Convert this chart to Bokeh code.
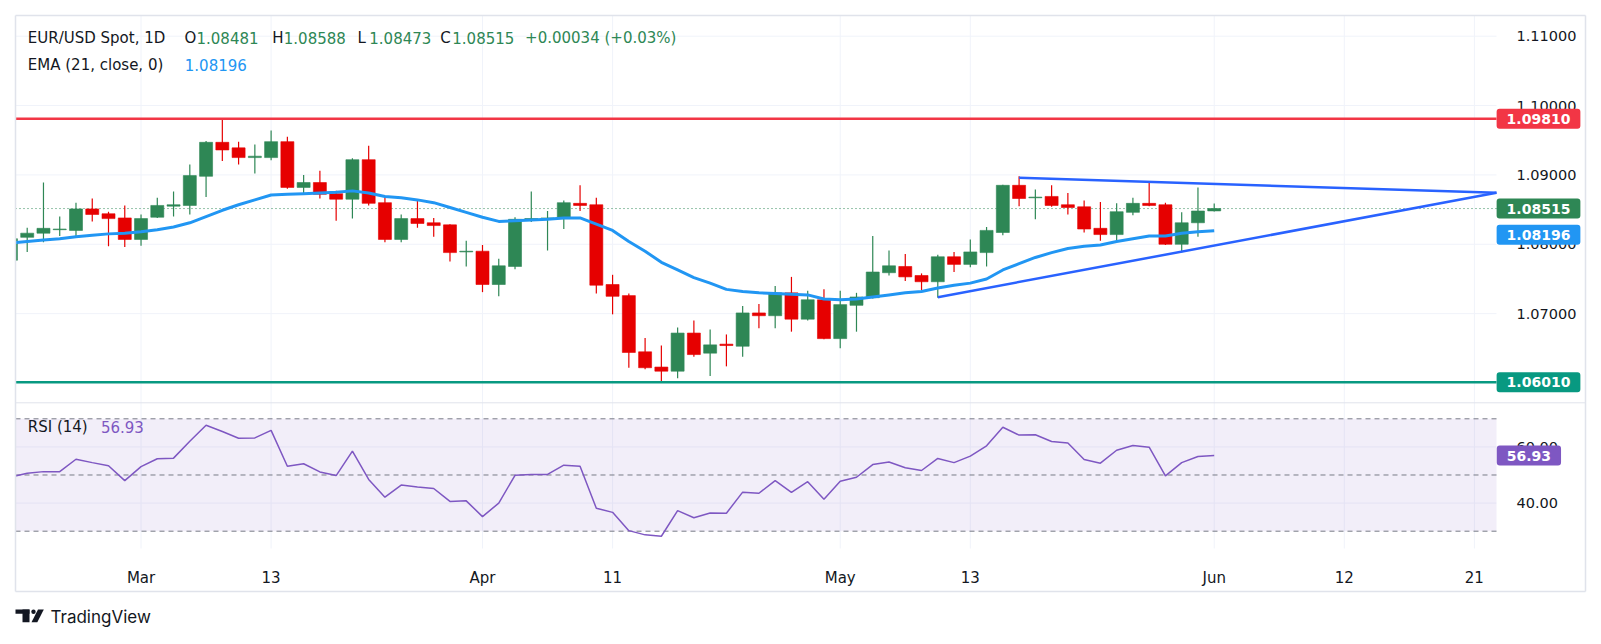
import numpy as np
import pandas as pd
from bokeh.plotting import figure
from bokeh.models import (ColumnDataSource, Range1d, FixedTicker, PrintfTickFormatter,
                          LinearAxis, Label)
from bokeh.embed import file_html
from bokeh.resources import INLINE

# ---------------- data ----------------
dates = pd.bdate_range("2024-02-20", "2024-06-03")

opens = [1.0777, 1.0810, 1.0816, 1.0821, 1.0820, 1.0851, 1.0844, 1.0838,
         1.0807, 1.0839, 1.0855, 1.0856, 1.0898, 1.0947, 1.0939, 1.0925, 1.0925, 1.0948,
         1.0882, 1.0889, 1.0873, 1.0865, 1.0922, 1.0860, 1.0807, 1.0837, 1.0831, 1.0828,
         1.0789, 1.0790, 1.0742, 1.0768, 1.0836, 1.0837, 1.0837, 1.0859, 1.0857, 1.0742,
         1.0726, 1.0645, 1.0623, 1.0617, 1.0672, 1.0643, 1.0656, 1.0653, 1.0701, 1.0697,
         1.0730, 1.0692, 1.0720, 1.0664, 1.0712, 1.0723, 1.0759, 1.0768, 1.0755, 1.0746,
         1.0782, 1.0771, 1.0788, 1.0817, 1.0885, 1.0867, 1.0869, 1.0857, 1.0854, 1.0823,
         1.0814, 1.0846, 1.0859, 1.0857, 1.0800, 1.0831, 1.08481]
highs = [1.0812, 1.0824, 1.0889, 1.0840, 1.0860, 1.0866, 1.0847, 1.0856,
         1.0843, 1.0867, 1.0876, 1.0915, 1.0949, 1.0981, 1.0948, 1.0944, 1.0964, 1.0955,
         1.0900, 1.0906, 1.0877, 1.0924, 1.0942, 1.0868, 1.0843, 1.0865, 1.0838, 1.0829,
         1.0805, 1.0799, 1.0779, 1.0839, 1.0876, 1.0848, 1.0863, 1.0885, 1.0867, 1.0756,
         1.0729, 1.0665, 1.0654, 1.0680, 1.0690, 1.0677, 1.0670, 1.0711, 1.0714, 1.0740,
         1.0753, 1.0733, 1.0735, 1.0733, 1.0730, 1.0812, 1.0791, 1.0786, 1.0758, 1.0785,
         1.0789, 1.0807, 1.0825, 1.0886, 1.0898, 1.0879, 1.0885, 1.0874, 1.0863, 1.0861,
         1.0859, 1.0867, 1.0889, 1.0860, 1.0846, 1.0882, 1.08588]
lows = [1.0760, 1.0789, 1.0803, 1.0812, 1.0812, 1.0833, 1.0797, 1.0796,
        1.0798, 1.0838, 1.0840, 1.0843, 1.0868, 1.0920, 1.0915, 1.0902, 1.0921, 1.0880,
        1.0873, 1.0866, 1.0834, 1.0837, 1.0856, 1.0803, 1.0803, 1.0824, 1.0811, 1.0775,
        1.0768, 1.0731, 1.0725, 1.0764, 1.0832, 1.0791, 1.0822, 1.0848, 1.0729, 1.0699,
        1.0622, 1.0620, 1.0603, 1.0607, 1.0638, 1.0610, 1.0624, 1.0638, 1.0679, 1.0679,
        1.0674, 1.0690, 1.0663, 1.0650, 1.0674, 1.0722, 1.0755, 1.0747, 1.0734, 1.0723,
        1.0760, 1.0767, 1.0768, 1.0813, 1.0855, 1.0836, 1.0854, 1.0843, 1.0817, 1.0805,
        1.0805, 1.0842, 1.0855, 1.0799, 1.0788, 1.0811, 1.08473]
closes = [1.0808, 1.0816, 1.0823, 1.0822, 1.0851, 1.0843, 1.0837, 1.0807,
          1.0837, 1.0856, 1.0857, 1.0899, 1.0947, 1.0936, 1.0925, 1.0927, 1.0948, 1.0882,
          1.0889, 1.0872, 1.0865, 1.0922, 1.0859, 1.0807, 1.0837, 1.0830, 1.0827, 1.0788,
          1.0790, 1.0742, 1.0769, 1.0836, 1.0837, 1.0838, 1.0860, 1.0856, 1.0741, 1.0725,
          1.0644, 1.0622, 1.0617, 1.0672, 1.0641, 1.0655, 1.0654, 1.0701, 1.0697, 1.0730,
          1.0692, 1.0720, 1.0664, 1.0713, 1.0724, 1.0760, 1.0769, 1.0753, 1.0746, 1.0782,
          1.0771, 1.0789, 1.0820, 1.0885, 1.0866, 1.0868, 1.0856, 1.0853, 1.0822, 1.0814,
          1.0847, 1.0859, 1.0856, 1.0800, 1.0831, 1.0848, 1.08515]
ema21 = [1.0802, 1.0804, 1.0806, 1.0808, 1.0811, 1.0813, 1.0815, 1.0816,
         1.0818, 1.0821, 1.0825, 1.0831, 1.0840, 1.0849, 1.0857, 1.0864, 1.0871, 1.0872,
         1.0873, 1.0874, 1.0875, 1.0877, 1.0874, 1.0869, 1.0867, 1.0864, 1.0860, 1.0853,
         1.0846, 1.0839, 1.0833, 1.0834, 1.0835, 1.0836, 1.0838, 1.0838, 1.0829, 1.0820,
         1.0804, 1.0790, 1.0774, 1.0763, 1.0752, 1.0744, 1.0735, 1.0732, 1.0730, 1.0729,
         1.0728, 1.0727, 1.0721, 1.0720, 1.0721, 1.0724, 1.0727, 1.0730, 1.0732, 1.0737,
         1.0741, 1.0744, 1.0750, 1.0763, 1.0772, 1.0781, 1.0788, 1.0794, 1.0797, 1.0799,
         1.0804, 1.0808, 1.0812, 1.0812, 1.0816, 1.0818, 1.08196]
rsi14 = [49.3, 50.6, 51.2, 51.2, 55.6, 54.4, 53.3, 48.0,
         53.0, 55.8, 56.0, 62.0, 67.7, 65.5, 63.1, 63.2, 65.9, 53.1,
         54.0, 51.1, 49.8, 58.5, 48.4, 42.1, 46.4, 45.7, 45.2, 40.6,
         40.8, 35.2, 40.0, 49.9, 50.2, 50.2, 53.5, 53.1, 38.2, 36.7,
         30.2, 28.7, 28.2, 37.3, 34.8, 36.5, 36.4, 43.9, 43.5, 48.0,
         43.8, 47.6, 41.4, 47.8, 49.2, 53.7, 54.6, 52.6, 51.6, 55.9,
         54.4, 56.7, 60.4, 67.0, 64.2, 64.3, 61.9, 61.4, 55.5, 54.2,
         58.8, 60.5, 59.9, 49.7, 54.4, 56.6, 56.93]

resistance = 1.0981
support = 1.0601
trend_upper_x = [62, 91.36]
trend_upper_y = [1.08958, 1.08742]
trend_lower_x = [57, 91.36]
trend_lower_y = [1.07237, 1.08742]

tick_pos = [8, 16, 29, 37, 51, 59, 74, 82, 90]
tick_labels = ["Mar", "13", "Apr", "11", "May", "13", "Jun", "12", "21"]
price_ticks = [1.07, 1.08, 1.09, 1.10, 1.11]
rsi_ticks = [40, 60]
rsi_levels = [70, 50, 30]

# ---------------- layout helpers (page pixels -> data) ----------------
UP, DOWN = "#2E8755", "#E60000"
DARK = "#131722"
LINE = "#E0E3EB"
GRID = "#F0F3FA"
FONT = "DejaVu Sans"
W, H = 1593, 636          # canvas = frame, at the page origin
X0, X1 = -0.64249, 97.3256
P0, P1 = 1.0234516, 1.1151471
R0, R1 = -7.474, 218.861


def px2x(px):
    return X0 + px / W * (X1 - X0)


def py2p(py):
    return P1 - py / H * (P1 - P0)


def sx(px):
    return px


def sy(py):
    return H - py


XL, XR = px2x(15), px2x(1496)      # plot area left/right
XB = px2x(1585)                    # outer box right

x = np.arange(len(dates))
o = np.array(opens); c = np.array(closes)
col = [UP if cc >= oo else DOWN for oo, cc in zip(o, c)]
src = ColumnDataSource(dict(x=x, open=o, close=c, high=highs, low=lows,
                            top=np.maximum(o, c), bottom=np.minimum(o, c),
                            color=col, ema=ema21, rsi=rsi14))

p = figure(width=W, height=H, x_range=Range1d(X0, X1), y_range=Range1d(P0, P1),
           y_axis_location="right", output_backend="svg", toolbar_location=None)
p.min_border = 0
p.min_border_left = p.min_border_right = p.min_border_top = p.min_border_bottom = 0
p.extra_y_ranges = {"rsi": Range1d(R0, R1)}
p.outline_line_color = None
p.background_fill_color = "white"
p.border_fill_color = "white"
p.grid.visible = False

# ---- axes (fixed inside the canvas, like TradingView scales) ----
ax = p.yaxis[0]
ax.ticker = FixedTicker(ticks=price_ticks)
ax.formatter = PrintfTickFormatter(format="%.5f")
ax.fixed_location = XR
rax = LinearAxis(y_range_name="rsi", ticker=FixedTicker(ticks=rsi_ticks),
                 formatter=PrintfTickFormatter(format="%.2f"), fixed_location=XR)
p.add_layout(rax, "right")
xa = p.xaxis[0]
xa.ticker = FixedTicker(ticks=tick_pos)
xa.major_label_overrides = {t: l for t, l in zip(tick_pos, tick_labels)}
xa.fixed_location = py2p(548)
for a in (ax, rax, xa):
    a.axis_line_color = None
    a.major_tick_line_color = None
    a.minor_tick_line_color = None
    a.major_label_text_font = FONT
    a.major_label_text_color = DARK
ax.major_label_text_font_size = rax.major_label_text_font_size = "14.5px"
ax.major_label_standoff = rax.major_label_standoff = 14
xa.major_label_text_font_size = "15px"
xa.major_label_standoff = 14

# ---- grid ----
p.segment(x0=tick_pos, x1=tick_pos, y0=py2p(15), y1=py2p(548), line_color=GRID, line_width=1)
p.segment(x0=XL, x1=XR, y0=price_ticks, y1=price_ticks, line_color=GRID, line_width=1)
p.segment(x0=XL, x1=XR, y0=rsi_ticks, y1=rsi_ticks, y_range_name="rsi",
          line_color=GRID, line_width=1)

# ---- RSI band ----
p.quad(left=XL, right=XR, bottom=30, top=70, y_range_name="rsi",
       fill_color="#7E57C2", fill_alpha=0.1, line_color=None)
p.segment(x0=XL, x1=XR, y0=rsi_levels, y1=rsi_levels, y_range_name="rsi",
          line_color="#787B86", line_dash="5 4", line_width=1)

# last price dotted line
p.segment(x0=XL, x1=XR, y0=closes[-1], y1=closes[-1], line_color=UP,
          line_dash="1 3", line_width=1)

# ---- candles ----
p.segment(x0="x", y0="low", x1="x", y1="high", color="color", line_width=1.2, source=src)
p.vbar(x="x", width=0.8, top="top", bottom="bottom", fill_color="color",
       line_color="color", line_width=0.6, source=src)

# EMA
p.line("x", "ema", source=src, line_color="#2196F3", line_width=3)

# horizontal levels
p.segment(x0=XL, x1=XR, y0=resistance, y1=resistance, line_color="#F23645", line_width=2.5)
p.segment(x0=XL, x1=XR, y0=support, y1=support, line_color="#089981", line_width=2.5)

# trend lines
p.line(trend_upper_x, trend_upper_y, line_color="#2962FF", line_width=2.5)
p.line(trend_lower_x, trend_lower_y, line_color="#2962FF", line_width=2.5)

# RSI line
p.line("x", "rsi", source=src, y_range_name="rsi", line_color="#7E57C2", line_width=1.5)

# mask the part left of the chart frame
p.quad(left=X0, right=XL, bottom=P0, top=P1, fill_color="white", line_color=None)

# outer box and pane separator
yt, yb = py2p(15), py2p(591)
p.segment(x0=[XL, XL, XL, XB], x1=[XB, XB, XL, XB], y0=[yt, yb, yt, yt], y1=[yt, yb, yb, yb],
          line_color=LINE, line_width=1.5)
p.segment(x0=XL, x1=XB, y0=py2p(402.3), y1=py2p(402.3), line_color=LINE, line_width=1)

# TradingView logo mark
p.quad(left=[px2x(15), px2x(22)], right=[px2x(29), px2x(29)],
       top=[py2p(609), py2p(609)], bottom=[py2p(613.3), py2p(621.7)],
       fill_color=DARK, line_color=None)
p.ellipse(x=px2x(33), y=py2p(611.2), width=4.4, height=4.4, width_units="screen",
          height_units="screen", fill_color=DARK, line_color=None)
p.patch(x=[px2x(37.5), px2x(43.3), px2x(36.8), px2x(31)],
        y=[py2p(609), py2p(609), py2p(621.7), py2p(621.7)], fill_color=DARK, line_color=None)


def txt(text, px, py, color=DARK, size="15px", font=FONT, style="normal"):
    p.add_layout(Label(x=sx(px), y=sy(py), x_units="screen", y_units="screen", text=text,
                       text_color=color, text_font=font, text_font_size=size,
                       text_font_style=style, text_baseline="middle", text_align="left"))


# header
chg = closes[-1] - opens[-1]
pct = chg / closes[-2] * 100
line1 = [("EUR/USD Spot, 1D", 27.3, DARK), ("O", 184, DARK), ("%.5f" % opens[-1], 196, UP),
         ("H", 271.7, DARK), ("%.5f" % highs[-1], 283.3, UP), ("L", 357, DARK),
         ("%.5f" % lows[-1], 368.8, UP), ("C", 439.7, DARK), ("%.5f" % closes[-1], 451.8, UP),
         ("%+.5f (%+.2f%%)" % (chg, pct), 524.6, UP)]
for t, px, cl in line1:
    txt(t, px, 37.7, cl)
txt("EMA (21, close, 0)", 27.3, 64.3)
txt("%.5f" % ema21[-1], 184.3, 64.3, "#2196F3")
txt("RSI (14)", 27.3, 426)
txt("%.2f" % rsi14[-1], 100.4, 426, "#7E57C2")
txt("TradingView", 50, 616.5, DARK, "17px", "Inter")


# price-scale tags
def tag(text, val, bg, cx, y_range_name="default", yoff=0):
    p.add_layout(Label(x=px2x(cx), y=val, x_units="data", y_units="data",
                       y_range_name=y_range_name, y_offset=yoff, text=text,
                       text_color="white", text_font=FONT, text_font_size="14px",
                       text_font_style="bold", text_align="center", text_baseline="middle",
                       background_fill_color=bg, border_radius=3,
                       padding=dict(left=10, right=10, top=5, bottom=5)))


tag("%.5f" % resistance, resistance, "#F23645", 1538)
tag("%.5f" % closes[-1], closes[-1], UP, 1538)
tag("%.5f" % ema21[-1], ema21[-1], "#2196F3", 1538, yoff=-4)
tag("%.5f" % support, support, "#089981", 1538)
tag("%.2f" % rsi14[-1], rsi14[-1], "#7E57C2", 1528.4, y_range_name="rsi")

open("out.html", "w").write(file_html(p, INLINE))
